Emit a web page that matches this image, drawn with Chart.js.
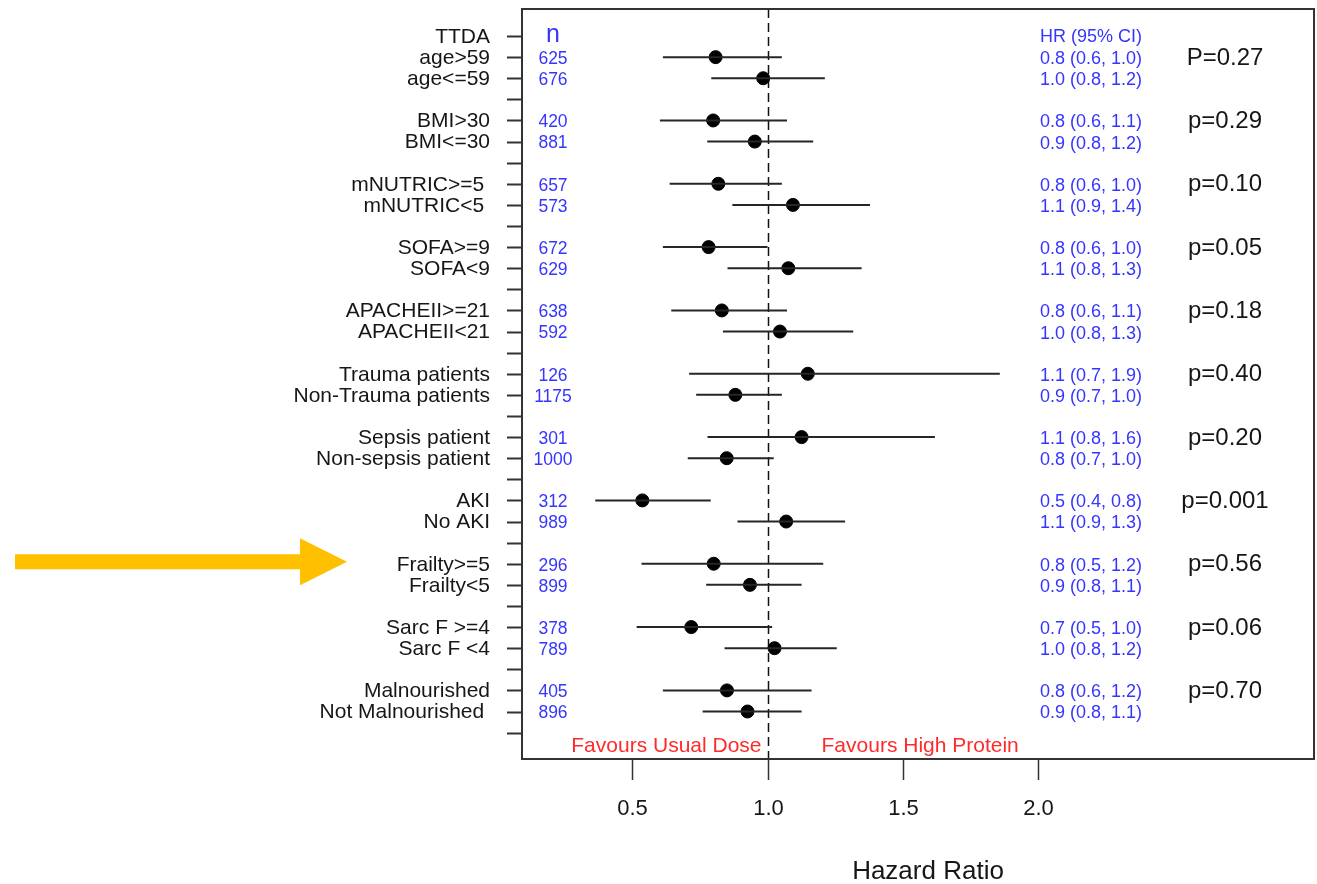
<!DOCTYPE html>
<html>
<head>
<meta charset="utf-8">
<script src="https://cdn.jsdelivr.net/npm/chart.js@4.4.1/dist/chart.umd.min.js"></script>
<style>
  html, body { margin: 0; padding: 0; background: #ffffff; }
  canvas { display: block; }
</style>
</head>
<body>
<canvas id="c" width="1317" height="884"></canvas>
<script>
// ---------------- DATA ----------------
const headerLabel = 'TTDA';
const subgroupLabels = ['age>59','age<=59','BMI>30','BMI<=30','mNUTRIC>=5 ','mNUTRIC<5 ','SOFA>=9','SOFA<9',
  'APACHEII>=21','APACHEII<21','Trauma patients','Non-Trauma patients','Sepsis patient','Non-sepsis patient',
  'AKI','No AKI','Frailty>=5','Frailty<5','Sarc F >=4','Sarc F <4','Malnourished','Not Malnourished '];
const nCounts = [625,676,420,881,657,573,672,629,638,592,126,1175,301,1000,312,989,296,899,378,789,405,896];
const hrPoint = [0.808,0.984,0.799,0.953,0.818,1.094,0.782,1.077,0.831,1.046,1.149,0.881,1.126,0.849,0.537,1.069,0.801,0.935,0.718,1.026,0.850,0.926];
const ciLow   = [0.613,0.792,0.602,0.777,0.638,0.870,0.613,0.852,0.644,0.835,0.710,0.736,0.778,0.705,0.363,0.889,0.534,0.773,0.516,0.841,0.613,0.760];
const ciHigh  = [1.053,1.212,1.072,1.169,1.053,1.379,1.000,1.348,1.072,1.317,1.859,1.053,1.619,1.023,0.790,1.287,1.206,1.126,1.017,1.256,1.163,1.126];
const hrText = ['0.8 (0.6, 1.0)','1.0 (0.8, 1.2)','0.8 (0.6, 1.1)','0.9 (0.8, 1.2)','0.8 (0.6, 1.0)','1.1 (0.9, 1.4)',
  '0.8 (0.6, 1.0)','1.1 (0.8, 1.3)','0.8 (0.6, 1.1)','1.0 (0.8, 1.3)','1.1 (0.7, 1.9)','0.9 (0.7, 1.0)',
  '1.1 (0.8, 1.6)','0.8 (0.7, 1.0)','0.5 (0.4, 0.8)','1.1 (0.9, 1.3)','0.8 (0.5, 1.2)','0.9 (0.8, 1.1)',
  '0.7 (0.5, 1.0)','1.0 (0.8, 1.2)','0.8 (0.6, 1.2)','0.9 (0.8, 1.1)'];
const pValues = ['P=0.27','p=0.29','p=0.10','p=0.05','p=0.18','p=0.40','p=0.20','p=0.001','p=0.56','p=0.06','p=0.70'];
const xTickValues = [0.5, 1.0, 1.5, 2.0];
const xTickLabels = ['0.5','1.0','1.5','2.0'];
const nHeader = 'n';
const hrHeader = 'HR (95% CI)';
const favoursLeft = 'Favours Usual Dose';
const favoursRight = 'Favours High Protein';
const xTitle = 'Hazard Ratio';
const refValue = 1.0;

// ---------------- LAYOUT (rows) ----------------
// row 0 = header, each group takes two rows followed by a blank row
const rowOf = i => 1 + Math.floor(i / 2) * 3 + (i % 2);
const totalRows = 1 + pValues.length * 3; // incl. trailing blank row

const FONT = '"Liberation Sans", Arial, Helvetica, sans-serif';
const BLUE = '#3535ff';
const DARK = '#161616';
const RED = '#ff2a2a';

const ciDatasets = subgroupLabels.map((lab, i) => ({
  type: 'line',
  label: lab,
  data: [{x: ciLow[i], y: rowOf(i)}, {x: ciHigh[i], y: rowOf(i)}],
  borderColor: '#262626',
  borderWidth: 2,
  pointRadius: 0,
  fill: false,
  tension: 0
}));

const pointDataset = {
  type: 'scatter',
  label: 'HR',
  data: hrPoint.map((v, i) => ({x: v, y: rowOf(i)})),
  backgroundColor: '#000000',
  borderColor: '#000000',
  pointRadius: 6.5,
  pointHoverRadius: 6.5
};

const forestPlugin = {
  id: 'forest',
  beforeDatasetsDraw(chart) {
    const {ctx, chartArea: a, scales: {x}} = chart;
    ctx.save();
    ctx.strokeStyle = '#111';
    ctx.lineWidth = 1.5;
    ctx.setLineDash([9, 5]);
    const px = Math.round(x.getPixelForValue(refValue)) + 0.5;
    ctx.beginPath();
    ctx.moveTo(px, a.top);
    ctx.lineTo(px, a.bottom);
    ctx.stroke();
    ctx.restore();
  },
  afterDatasetsDraw(chart) {
    const {ctx, chartArea: a, scales: {x, y}} = chart;
    ctx.save();
    // frame
    ctx.strokeStyle = '#333';
    ctx.lineWidth = 2;
    ctx.strokeRect(a.left, a.top, a.right - a.left, a.bottom - a.top);

    // left ticks at every row
    ctx.lineWidth = 2;
    for (let r = 0; r < totalRows; r++) {
      const py = Math.round(y.getPixelForValue(r)) + 0.5;
      ctx.beginPath();
      ctx.moveTo(a.left - 15, py);
      ctx.lineTo(a.left, py);
      ctx.stroke();
    }
    // bottom ticks
    ctx.lineWidth = 1.5;
    xTickValues.forEach((v, i) => {
      const px = Math.round(x.getPixelForValue(v)) + 0.5;
      ctx.beginPath();
      ctx.moveTo(px, a.bottom);
      ctx.lineTo(px, a.bottom + 21);
      ctx.stroke();
      ctx.fillStyle = DARK;
      ctx.font = '22px ' + FONT;
      ctx.textAlign = 'center';
      ctx.textBaseline = 'middle';
      ctx.fillText(xTickLabels[i], px, a.bottom + 50);
    });
    // x title
    ctx.font = '26px ' + FONT;
    ctx.fillStyle = DARK;
    ctx.textAlign = 'center';
    ctx.fillText(xTitle, (a.left + a.right) / 2 + 10, a.bottom + 113);

    // row labels
    ctx.textBaseline = 'middle';
    ctx.textAlign = 'right';
    ctx.font = '21px ' + FONT;
    ctx.fillStyle = DARK;
    ctx.fillText(headerLabel, a.left - 32, y.getPixelForValue(0) + 1);
    subgroupLabels.forEach((lab, i) => {
      ctx.fillText(lab, a.left - 32, y.getPixelForValue(rowOf(i)) + 1);
    });

    // n column
    const nX = a.left + 31;
    ctx.textAlign = 'center';
    ctx.fillStyle = BLUE;
    ctx.font = '25px ' + FONT;
    ctx.fillText(nHeader, nX, y.getPixelForValue(0) - 1);
    ctx.font = '17.5px ' + FONT;
    nCounts.forEach((n, i) => {
      ctx.fillText(String(n), nX, y.getPixelForValue(rowOf(i)) + 2);
    });

    // HR column
    const hrX = 1040;
    ctx.textAlign = 'left';
    ctx.font = '18px ' + FONT;
    ctx.fillText(hrHeader, hrX, y.getPixelForValue(0) + 1);
    hrText.forEach((t, i) => {
      ctx.fillText(t, hrX, y.getPixelForValue(rowOf(i)) + 2);
    });

    // p-values
    ctx.textAlign = 'center';
    ctx.font = '24px ' + FONT;
    ctx.fillStyle = DARK;
    pValues.forEach((p, g) => {
      ctx.fillText(p, 1225, y.getPixelForValue(1 + g * 3) + 1);
    });

    // favours
    ctx.font = '21px ' + FONT;
    ctx.fillStyle = RED;
    const fy = y.getPixelForValue(totalRows - 1) + 14;
    const refPx = x.getPixelForValue(refValue);
    ctx.textAlign = 'right';
    ctx.fillText(favoursLeft, refPx - 6, fy);
    ctx.textAlign = 'left';
    ctx.fillText(favoursRight, refPx + 54, fy);

    // highlight arrow pointing at the Frailty row
    const ay = y.getPixelForValue(rowOf(16)) - 2;
    ctx.fillStyle = '#FFC000';
    ctx.beginPath();
    ctx.moveTo(15, ay - 7.5);
    ctx.lineTo(300, ay - 7.5);
    ctx.lineTo(300, ay - 23.5);
    ctx.lineTo(347, ay);
    ctx.lineTo(300, ay + 23.5);
    ctx.lineTo(300, ay + 7.5);
    ctx.lineTo(15, ay + 7.5);
    ctx.closePath();
    ctx.fill();
    ctx.restore();
  }
};

new Chart(document.getElementById('c'), {
  type: 'scatter',
  data: { datasets: [...ciDatasets, pointDataset] },
  options: {
    responsive: false,
    animation: false,
    events: [],
    layout: { padding: { left: 522, right: 3, top: 9, bottom: 125 }, autoPadding: false },
    plugins: { legend: { display: false }, tooltip: { enabled: false } },
    scales: {
      x: { type: 'linear', min: 0.092, max: 3.021, display: false },
      y: { type: 'linear', min: -1.28, max: 34.25, reverse: true, display: false }
    }
  },
  plugins: [forestPlugin]
});
</script>
</body>
</html>
